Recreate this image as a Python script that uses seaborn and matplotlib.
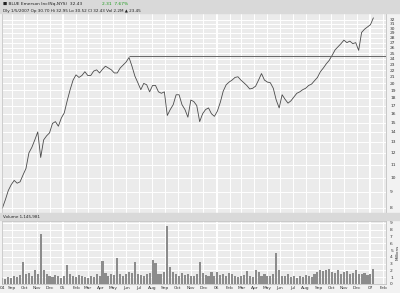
import numpy as np
import pandas as pd
import matplotlib
matplotlib.use("Agg")
import matplotlib.pyplot as plt
import seaborn as sns

# weekly closing prices, Aug 2004 - Jan 2007
close = [8.0, 8.5, 9.1, 9.5, 9.8, 9.6, 9.7, 10.2, 10.7, 12.0,
         12.5, 13.2, 14.0, 11.6, 13.2, 13.6, 13.9, 14.9, 15.1, 14.6,
         15.5, 16.1, 17.6, 19.1, 20.5, 21.3, 20.9, 21.2, 21.8, 21.2,
         21.2, 21.9, 22.1, 21.6, 22.2, 22.7, 22.4, 22.1, 21.6, 21.6,
         22.4, 22.9, 23.4, 24.2, 22.7, 21.1, 20.1, 19.1, 20.0, 19.8,
         18.8, 19.7, 19.7, 18.8, 18.6, 18.8, 15.8, 16.5, 17.1, 18.4,
         18.4, 17.1, 16.5, 15.6, 17.7, 17.5, 17.0, 15.1, 16.0, 16.5,
         16.7, 16.0, 15.7, 16.3, 17.4, 18.9, 19.8, 20.2, 20.5, 20.9,
         21.0, 20.5, 20.1, 19.7, 19.2, 19.3, 19.6, 20.5, 21.5, 20.5,
         20.2, 20.1, 19.3, 17.7, 16.7, 18.4, 17.8, 17.3, 17.6, 18.1,
         18.6, 18.8, 19.1, 19.3, 19.7, 19.9, 20.4, 20.9, 21.8, 22.4,
         23.1, 23.7, 24.6, 25.6, 26.2, 26.8, 27.5, 27.0, 27.3, 26.8,
         27.0, 25.5, 29.1, 29.8, 30.3, 30.8, 32.4]

# volume (millions)
volume = [0.8, 0.7, 1.0, 0.9, 1.2, 1.0, 1.3, 3.2, 1.5, 1.6,
          1.2, 2.0, 1.4, 7.3, 2.0, 1.5, 1.2, 1.0, 1.3, 1.1,
          0.9, 1.2, 2.8, 1.5, 1.2, 1.0, 1.3, 1.1, 1.0, 0.9,
          1.2, 1.0, 1.4, 1.1, 3.4, 1.6, 1.2, 1.5, 1.3, 3.8,
          1.4, 1.2, 1.5, 1.8, 1.6, 3.2, 1.5, 1.3, 1.2, 1.4,
          1.6, 3.5, 3.1, 1.5, 1.4, 1.8, 8.5, 2.5, 1.8, 1.5,
          1.2, 1.6, 1.3, 1.5, 1.2, 1.1, 1.4, 3.2, 1.6, 1.3,
          1.1, 1.8, 1.2, 1.8, 1.3, 1.5, 1.2, 1.6, 1.4, 1.1,
          1.0, 1.2, 1.3, 1.9, 1.1, 1.0, 2.0, 1.7, 1.2, 1.4,
          1.1, 1.2, 1.5, 4.6, 2.0, 1.2, 1.1, 1.4, 1.0, 1.2,
          0.9, 1.1, 1.0, 1.3, 1.2, 1.0, 1.4, 1.8, 2.1, 1.9,
          2.0, 2.2, 1.8, 1.6, 2.0, 1.5, 1.7, 1.9, 1.4, 1.6,
          2.0, 1.5, 1.4, 1.6, 1.3, 1.4, 2.2]

resistance_level = 24.4
resistance_start = "2005-06-06"

price_ticks = list(range(8, 33))
volume_ticks = list(range(0, 10))
month_labels = ["04", "Sep", "Oct", "Nov", "Dec", "05", "Feb", "Mar", "Apr", "May", "Jun",
                "Jul", "Aug", "Sep", "Oct", "Nov", "Dec", "06", "Feb", "Mar", "Apr",
                "May", "Jun", "Jul", "Aug", "Sep", "Oct", "Nov", "Dec", "07", "Feb"]

title_text = "\u25a0 BLUE Emerson Inc(Nq,NYS)  32.43"
change_text = "2.31  7.67%"
info_text = "Dly 1/5/2007 Op 30.70 Hi 32.95 Lo 30.52 Cl 32.43 Vol 2.2M \u25b2 23.45"
volume_text = "Volume 1,145,981"

dates = pd.date_range("2004-08-10", periods=len(close), freq="7D")
df = pd.DataFrame({"date": dates, "close": close, "volume": volume})

sns.set_theme(style="whitegrid")
plt.rcParams["font.family"] = ["DejaVu Sans"]

fig = plt.figure(figsize=(4.0, 2.93), dpi=100, facecolor="#f2f2f2")
ax = fig.add_axes([0.005, 0.273, 0.96, 0.683])
axv = fig.add_axes([0.005, 0.031, 0.96, 0.215], sharex=ax)

bg = "#ebebeb"
for a in (ax, axv):
    a.set_facecolor(bg)
    for s in a.spines.values():
        s.set_color("#b8b8b8")
        s.set_linewidth(0.5)

# header bands
fig.patches.append(plt.Rectangle((0, 0.955), 1, 0.045, transform=fig.transFigure,
                                 color="#d9d9d9", zorder=0))
fig.patches.append(plt.Rectangle((0, 0.248), 1, 0.024, transform=fig.transFigure,
                                 color="#d9d9d9", zorder=0))
fig.text(0.008, 0.985, title_text, fontsize=3.2, va="center", color="#222222")
fig.text(0.255, 0.985, change_text, fontsize=3.2, va="center", color="#1a9a1a")
fig.text(0.008, 0.963, info_text, fontsize=3.0, va="center", color="#222222")
fig.text(0.008, 0.260, volume_text, fontsize=3.0, va="center", color="#222222")

# price line
sns.lineplot(data=df, x="date", y="close", ax=ax, color="#4a4a4a", linewidth=0.6)
ax.set_yscale("log")
ax.set_ylim(7.71, 33.6)
xmin = pd.Timestamp("2004-08-09")
xmax = pd.Timestamp("2007-02-08")
ax.set_xlim(xmin, xmax)

ax.hlines(resistance_level, pd.Timestamp(resistance_start), xmax,
          color="#666666", linewidth=0.7, zorder=3)

ax.yaxis.tick_right()
ax.set_yticks(price_ticks)
ax.set_yticklabels([str(t) for t in price_ticks])
ax.yaxis.set_minor_locator(matplotlib.ticker.NullLocator())
ax.tick_params(axis="y", labelsize=3.2, length=0, pad=3, colors="#333333")
ax.tick_params(axis="x", labelbottom=False, length=0)
ax.set_xlabel("")
ax.set_ylabel("")

# volume bars
axv.bar(df["date"], df["volume"], width=5, color="#8c8c8c", linewidth=0)
axv.set_ylim(0, 9.3)
axv.yaxis.tick_right()
axv.set_yticks(volume_ticks)
axv.set_yticklabels([str(t) for t in volume_ticks])
axv.tick_params(axis="y", labelsize=3.2, length=0, pad=3, colors="#333333")
axv.yaxis.set_label_position("right")
axv.set_ylabel("Millions", fontsize=3.0, rotation=90, labelpad=2, color="#333333")

month_starts = pd.date_range("2004-09-01", "2007-02-01", freq="MS")
tick_pos = [xmin] + list(month_starts)
axv.set_xticks(tick_pos)
axv.set_xticklabels(month_labels[:len(tick_pos)])
axv.tick_params(axis="x", labelsize=3.2, length=0, pad=1.5, colors="#333333")
axv.set_xlabel("")

for a in (ax, axv):
    a.grid(True, color="white", linewidth=0.7)
    a.set_axisbelow(True)
    for d in month_starts:
        if d.month == 1:
            a.axvline(d, color="white", linewidth=1.4, zorder=0.5)

fig.savefig("out.png", dpi=100, facecolor=fig.get_facecolor())
